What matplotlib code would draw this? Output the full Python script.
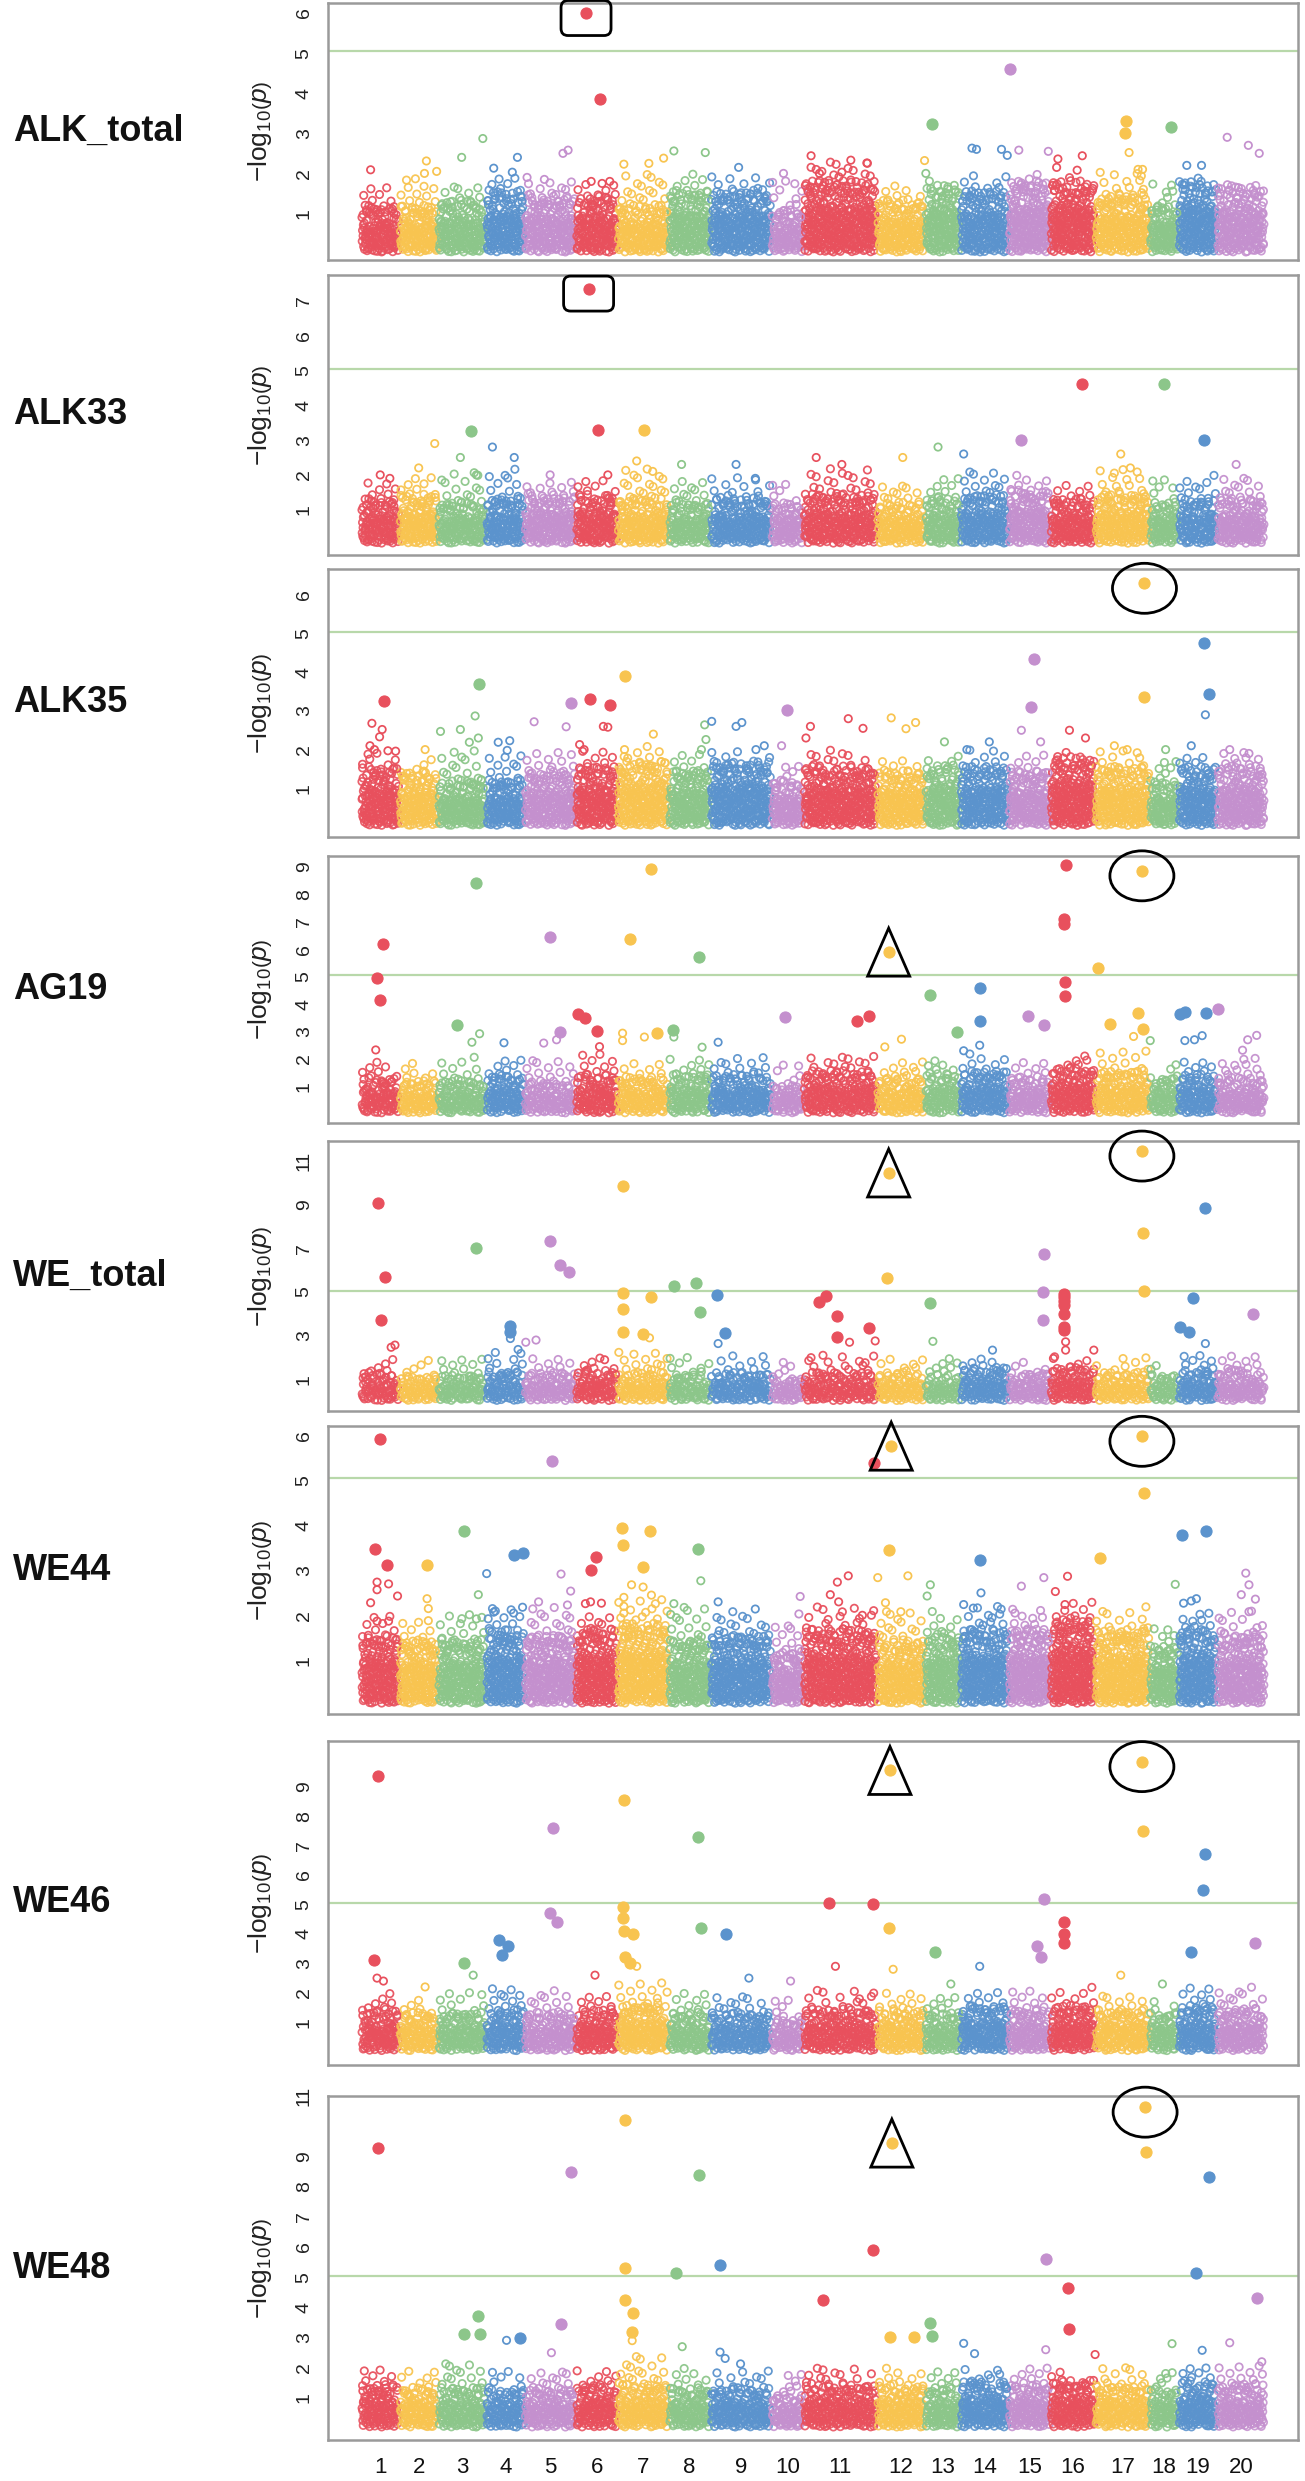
import numpy as np
import matplotlib
matplotlib.use('Agg')
import matplotlib.pyplot as plt
from matplotlib.patches import Ellipse, Polygon, FancyBboxPatch
from matplotlib.transforms import ScaledTranslation

plt.rcParams['font.family'] = ['Liberation Sans', 'DejaVu Sans']
plt.rcParams['mathtext.fontset'] = 'custom'
plt.rcParams['mathtext.rm'] = 'Liberation Sans'
plt.rcParams['mathtext.it'] = 'Liberation Sans:italic'

# ---------------- data ----------------
chromosomes = [str(i) for i in range(1, 21)]
chrom_sizes = [60, 60, 75, 60, 80, 65, 80, 65, 95, 50, 115, 75, 55, 75, 65, 70, 85, 45, 60, 75]
chrom_colors = ['#E8505D', '#F8C450', '#8CC68A', '#5B93CD', '#C490CE']

traits = ['ALK_total', 'ALK33', 'ALK35', 'AG19', 'WE_total', 'WE44', 'WE46', 'WE48']
threshold = 5.05

y_ticks = [[1, 2, 3, 4, 5, 6], [1, 2, 3, 4, 5, 6, 7], [1, 2, 3, 4, 5, 6],
           [1, 2, 3, 4, 5, 6, 7, 8, 9], [1, 3, 5, 7, 9, 11], [1, 2, 3, 4, 5, 6],
           [1, 2, 3, 4, 5, 6, 7, 8, 9], [1, 2, 3, 4, 5, 6, 7, 8, 9, 11]]
y_limits = [(-0.16, 6.25), (-0.30, 7.74), (-0.26, 6.67), (-0.33, 9.39),
            (-0.44, 11.89), (-0.20, 6.22), (-0.45, 10.55), (-0.39, 10.88)]

# bulk of SNP cloud per chromosome: height of dense band and of sparse upper fringe
alk_total_dense = [1.0, 1.0, 1.1, 1.3, 1.2, 1.2, 1.0, 1.3, 1.3, 0.9, 1.5, 1.1, 1.4, 1.3, 1.5, 1.5, 1.2, 1.0, 1.5, 1.4]
alk_total_halo = [1.8, 2.0, 1.7, 1.9, 1.9, 1.8, 2.0, 2.0, 2.0, 1.9, 2.3, 1.7, 1.9, 2.0, 2.0, 2.0, 2.1, 1.8, 1.9, 1.8]
alk33_dense = [1.1, 1.2, 1.0, 1.1, 1.2, 1.2, 1.1, 1.0, 1.1, 1.0, 1.2, 1.0, 1.1, 1.2, 1.3, 1.1, 1.2, 1.0, 1.1, 1.1]
alk33_halo = [1.9, 2.0, 2.1, 2.2, 1.9, 1.9, 2.2, 2.0, 2.0, 1.8, 2.2, 1.8, 2.0, 2.1, 2.0, 1.8, 2.2, 1.9, 2.0, 2.0]
alk35_dense = [1.3, 1.2, 1.0, 1.0, 1.2, 1.3, 1.4, 1.2, 1.4, 1.0, 1.3, 1.2, 1.3, 1.3, 1.2, 1.5, 1.3, 1.0, 1.3, 1.3]
alk35_halo = [2.0, 1.8, 2.0, 2.0, 2.0, 2.0, 2.1, 2.0, 2.0, 1.6, 2.0, 1.8, 1.9, 2.0, 2.0, 2.0, 2.0, 1.7, 1.9, 2.0]
ag19_dense = [1.1, 1.0, 1.0, 1.2, 1.0, 1.2, 1.1, 1.2, 1.2, 0.9, 1.3, 1.1, 1.2, 1.3, 1.1, 1.4, 1.3, 1.1, 1.2, 1.1]
ag19_halo = [2.0, 1.9, 2.1, 2.1, 2.0, 2.2, 2.0, 2.1, 2.1, 1.8, 2.2, 2.0, 2.0, 2.2, 2.0, 2.2, 2.3, 1.8, 2.0, 2.1]
we_total_dense = [1.1, 1.0, 1.0, 1.1, 1.1, 1.2, 1.1, 1.0, 1.1, 0.9, 1.1, 1.1, 1.0, 1.3, 1.1, 1.3, 1.1, 1.0, 1.2, 1.2]
we_total_halo = [2.0, 1.9, 2.1, 2.4, 2.0, 2.0, 2.4, 2.1, 2.1, 1.8, 2.2, 2.0, 2.0, 2.1, 1.9, 2.1, 2.0, 1.8, 2.2, 2.1]
we44_dense = [1.3, 1.2, 1.2, 1.4, 1.3, 1.4, 1.5, 1.2, 1.3, 1.0, 1.4, 1.2, 1.3, 1.4, 1.4, 1.6, 1.4, 1.1, 1.4, 1.3]
we44_halo = [2.0, 2.0, 2.1, 2.2, 2.2, 2.1, 2.4, 2.2, 2.1, 1.9, 2.2, 2.1, 2.1, 2.3, 2.2, 2.3, 2.2, 1.8, 2.1, 2.1]
we46_dense = [1.2, 1.1, 1.1, 1.2, 1.1, 1.2, 1.3, 1.1, 1.1, 0.9, 1.2, 1.2, 1.1, 1.3, 1.2, 1.3, 1.2, 1.1, 1.3, 1.2]
we46_halo = [2.0, 1.9, 2.1, 2.2, 2.1, 2.0, 2.4, 2.0, 2.0, 1.9, 2.1, 2.0, 2.0, 2.1, 2.1, 2.2, 2.0, 1.8, 2.2, 2.2]
we48_dense = [1.2, 1.1, 1.1, 1.1, 1.1, 1.2, 1.2, 1.1, 1.1, 0.9, 1.2, 1.2, 1.1, 1.3, 1.2, 1.3, 1.2, 1.1, 1.3, 1.2]
we48_halo = [2.1, 2.0, 2.2, 1.9, 2.0, 2.0, 2.4, 2.0, 2.0, 1.9, 2.0, 2.0, 2.0, 2.0, 2.0, 2.0, 2.1, 1.9, 2.0, 2.2]

# individual SNPs above the bulk: (chromosome, position in chromosome, -log10 p)
alk_total_points = [
    (1, 15, 2.09), (2, 42, 2.31), (2, 58, 2.05), (2, 39, 2.0), (3, 70, 2.87), (3, 37, 2.4),
    (4, 12, 2.13), (4, 49, 2.4), (4, 41, 2.03), (5, 60, 2.5), (5, 68, 2.58), (5, 4, 1.9),
    (5, 31, 1.85), (6, 16, 6.0), (6, 38, 3.85), (6, 24, 1.8), (6, 41, 1.75), (6, 53, 1.8),
    (7, 10, 2.23), (7, 49, 2.25), (7, 72, 2.38), (8, 8, 2.56), (8, 57, 2.52),
    (9, 44, 2.15), (10, 19, 2.0), (11, 12, 2.44), (11, 74, 2.33), (11, 99, 2.26),
    (11, 60, 2.03), (11, 25, 2.0), (12, 74, 2.32), (13, 1, 2.0), (13, 10, 3.24),
    (14, 18, 2.63), (14, 25, 2.6), (14, 64, 2.6), (14, 73, 2.45), (15, 3, 4.61),
    (15, 16, 2.58), (15, 62, 2.55), (16, 12, 2.36), (16, 50, 2.44), (16, 10, 2.15),
    (16, 42, 2.08), (17, 48, 3.31), (17, 46, 3.0), (17, 53, 2.52), (17, 67, 2.1),
    (17, 74, 2.1), (18, 34, 3.15), (19, 13, 2.2), (19, 36, 2.2), (20, 16, 2.9),
    (20, 49, 2.7), (20, 66, 2.5)]
alk33_points = [
    (1, 30, 2.0), (1, 45, 1.9), (2, 55, 2.9), (2, 30, 2.2), (3, 52, 3.25), (3, 35, 2.5),
    (3, 60, 2.0), (4, 10, 2.8), (4, 44, 2.5), (5, 40, 2.0), (6, 20, 7.35), (6, 35, 3.3),
    (6, 50, 2.0), (7, 41, 3.3), (7, 30, 2.4), (7, 55, 2.1), (8, 20, 2.3), (9, 40, 2.3),
    (9, 70, 1.9), (11, 20, 2.5), (11, 60, 2.3), (12, 40, 2.5), (13, 20, 2.8),
    (14, 5, 2.6), (15, 20, 3.0), (16, 50, 4.6), (17, 40, 2.6), (17, 55, 2.2),
    (18, 22, 4.6), (19, 40, 3.0), (20, 30, 2.3)]
alk35_points = [
    (1, 36, 3.26), (1, 17, 2.68), (1, 33, 2.52), (1, 29, 2.33), (1, 14, 2.1), (1, 21, 2.0),
    (1, 42, 1.97), (1, 54, 1.96), (2, 40, 2.0), (3, 64, 3.7), (3, 58, 2.87), (3, 35, 2.52),
    (3, 4, 2.47), (3, 49, 2.19), (3, 63, 2.3), (4, 19, 2.19), (4, 37, 2.23), (4, 33, 1.98),
    (5, 15, 2.72), (5, 65, 2.59), (5, 72, 3.21), (6, 22, 3.3), (6, 54, 3.16), (6, 43, 2.6),
    (6, 50, 2.58), (6, 6, 2.13), (6, 13, 2.0), (7, 12, 3.9), (7, 56, 2.4), (7, 11, 2.0),
    (8, 56, 2.64), (8, 58, 2.26), (8, 51, 2.0), (9, 2, 2.73), (9, 40, 2.6), (9, 49, 2.7),
    (9, 71, 2.0), (9, 84, 2.1), (10, 24, 3.03), (10, 16, 2.1), (11, 11, 2.6), (11, 4, 2.3),
    (11, 70, 2.8), (11, 93, 2.55), (12, 22, 2.82), (12, 45, 2.54), (12, 60, 2.7),
    (13, 30, 2.2), (14, 45, 2.2), (14, 10, 2.0), (15, 40, 4.35), (15, 35, 3.1),
    (15, 20, 2.5), (15, 50, 2.2), (16, 30, 2.5), (16, 55, 2.3), (17, 77, 6.3),
    (17, 77, 3.35), (17, 30, 2.1), (17, 50, 2.0), (18, 25, 2.0), (19, 40, 4.75),
    (19, 47, 3.45), (19, 42, 2.9), (19, 20, 2.1), (20, 20, 2.0), (20, 50, 1.9)]
ag19_points = [
    (1, 35, 6.17), (1, 25, 4.96), (1, 30, 4.13), (1, 23, 2.33), (3, 60, 8.42), (5, 40, 6.44),
    (7, 53, 8.93), (7, 20, 6.38), (8, 47, 5.71), (12, 18, 5.89), (16, 25, 9.08),
    (16, 22, 7.1), (16, 22, 6.93), (16, 23, 4.8), (16, 23, 4.28), (17, 5, 5.31),
    (17, 73, 8.85), (13, 7, 4.34), (14, 30, 4.58), (14, 30, 3.4), (6, 3, 3.62),
    (6, 15, 3.5), (10, 22, 3.52), (11, 83, 3.4), (11, 103, 3.55), (15, 30, 3.56),
    (15, 55, 3.24), (17, 67, 3.67), (17, 23, 3.27), (17, 75, 3.1), (17, 60, 2.82),
    (19, 2, 3.64), (19, 10, 3.7), (19, 43, 3.67), (20, 2, 3.83), (19, 10, 2.67),
    (19, 25, 2.7), (19, 37, 2.85), (3, 30, 3.24), (3, 65, 2.92), (3, 53, 2.61),
    (4, 28, 2.59), (5, 30, 2.58), (5, 55, 2.98), (5, 50, 2.7), (6, 33, 3.01),
    (6, 37, 2.45), (7, 8, 2.94), (7, 42, 2.8), (7, 62, 2.95), (7, 8, 2.67), (8, 7, 3.06),
    (8, 8, 2.8), (8, 52, 2.43), (9, 12, 2.61), (12, 12, 2.44), (12, 38, 2.72),
    (13, 50, 2.98), (14, 30, 2.5), (14, 5, 2.3), (18, 1, 2.67), (20, 62, 2.86),
    (20, 48, 2.7), (20, 40, 2.32)]
we_total_points = [
    (1, 27, 9.07), (1, 37, 5.67), (1, 31, 3.72), (1, 53, 2.57), (1, 47, 2.47),
    (3, 60, 6.99), (5, 40, 7.31), (5, 55, 6.21), (5, 70, 5.9), (7, 9, 9.83), (7, 8, 4.97),
    (7, 8, 4.21), (7, 53, 4.77), (8, 8, 5.26), (8, 43, 5.41), (8, 48, 4.06), (9, 10, 4.85),
    (11, 35, 4.82), (11, 25, 4.54), (11, 53, 3.9), (12, 18, 10.43), (12, 16, 5.64),
    (13, 7, 4.5), (15, 55, 6.75), (15, 53, 5.0), (15, 53, 3.72), (16, 22, 4.92),
    (16, 22, 4.77), (16, 22, 4.59), (16, 22, 4.39), (16, 22, 4.01), (16, 22, 3.4),
    (16, 22, 3.25), (16, 24, 2.72), (16, 24, 2.34), (16, 5, 1.96), (17, 73, 11.43),
    (17, 75, 7.69), (17, 77, 5.02), (19, 42, 8.85), (19, 23, 4.73), (19, 3, 3.4),
    (19, 16, 3.17), (19, 42, 2.64), (20, 57, 4.0), (4, 38, 3.43), (4, 38, 3.17),
    (4, 38, 2.87), (4, 50, 2.37), (5, 18, 2.8), (5, 2, 2.7), (6, 45, 1.9), (7, 8, 3.17),
    (7, 40, 3.07), (7, 50, 2.9), (9, 22, 3.1), (9, 12, 2.64), (11, 103, 3.33),
    (11, 53, 2.95), (11, 72, 2.7), (11, 112, 2.76), (13, 12, 2.74), (14, 50, 2.34),
    (16, 68, 2.34)]
we44_points = [
    (1, 29, 5.94), (5, 43, 5.45), (11, 110, 5.39), (12, 22, 5.77), (17, 73, 5.99),
    (17, 76, 4.73), (1, 22, 3.47), (1, 40, 3.12), (1, 25, 2.74), (1, 43, 2.7),
    (1, 25, 2.57), (1, 57, 2.43), (1, 15, 2.28), (1, 25, 1.87), (1, 43, 1.87),
    (2, 43, 3.12), (2, 43, 2.37), (2, 45, 2.15), (2, 45, 1.88), (3, 40, 3.87),
    (3, 63, 2.46), (3, 60, 1.92), (4, 43, 3.34), (4, 58, 3.38), (4, 1, 2.93),
    (4, 12, 2.07), (4, 43, 2.05), (4, 57, 2.18), (5, 57, 2.92), (5, 72, 2.54),
    (5, 67, 2.23), (5, 22, 2.3), (6, 32, 3.3), (6, 23, 3.0), (6, 23, 2.3), (6, 40, 2.27),
    (6, 15, 2.26), (7, 7, 3.94), (7, 9, 3.57), (7, 50, 3.89), (7, 40, 3.07), (7, 22, 2.68),
    (7, 40, 2.63), (7, 53, 2.45), (7, 10, 2.4), (7, 10, 2.2), (7, 10, 2.05), (8, 45, 3.48),
    (8, 50, 2.77), (8, 8, 2.26), (8, 3, 2.02), (9, 12, 2.3), (9, 70, 2.14), (10, 45, 2.42),
    (10, 43, 2.03), (11, 70, 2.88), (11, 53, 2.74), (11, 42, 2.46), (11, 55, 2.3),
    (11, 92, 2.0), (12, 18, 3.45), (12, 1, 2.84), (12, 48, 2.88), (12, 13, 2.28),
    (12, 37, 2.08), (13, 8, 2.68), (13, 3, 2.43), (14, 30, 3.23), (14, 32, 2.5),
    (14, 5, 2.24), (14, 20, 2.16), (15, 20, 2.65), (15, 55, 2.84), (15, 10, 2.05),
    (16, 27, 2.87), (16, 8, 2.53), (16, 23, 2.24), (17, 7, 3.27), (18, 40, 2.69),
    (19, 5, 3.78), (19, 43, 3.89), (19, 20, 2.32), (19, 28, 2.37), (19, 8, 2.27),
    (20, 45, 2.94), (20, 50, 2.68), (20, 38, 2.46), (20, 60, 2.36), (20, 50, 2.08)]
we46_points = [
    (1, 27, 9.35), (7, 10, 8.55), (5, 45, 7.6), (8, 45, 7.3), (12, 20, 9.55),
    (17, 73, 9.85), (17, 75, 7.5), (19, 42, 6.7), (19, 38, 5.5), (15, 55, 5.2),
    (11, 40, 5.05), (11, 108, 5.0), (7, 8, 4.9), (7, 8, 4.55), (7, 10, 4.1), (7, 25, 4.0),
    (7, 12, 3.2), (7, 20, 3.0), (7, 30, 2.9), (5, 40, 4.7), (5, 50, 4.4), (4, 20, 3.8),
    (4, 35, 3.6), (4, 25, 3.3), (3, 40, 3.0), (3, 55, 2.6), (1, 20, 3.1), (1, 25, 2.5),
    (1, 35, 2.4), (8, 50, 4.2), (9, 25, 4.0), (12, 18, 4.2), (12, 25, 2.8),
    (16, 22, 4.4), (16, 22, 4.0), (16, 22, 3.7), (13, 15, 3.4), (14, 30, 2.9),
    (15, 45, 3.6), (15, 50, 3.2), (19, 20, 3.4), (20, 60, 3.7), (11, 50, 2.9),
    (10, 30, 2.4), (6, 30, 2.6), (2, 40, 2.2), (18, 20, 2.3), (17, 40, 2.6),
    (13, 40, 2.3), (9, 60, 2.5)]
we48_points = [
    (1, 27, 9.27), (7, 12, 10.19), (5, 72, 8.5), (8, 47, 8.37), (12, 23, 9.44),
    (17, 78, 10.63), (17, 80, 9.13), (19, 48, 8.33), (11, 108, 5.91), (15, 58, 5.59),
    (7, 11, 5.31), (8, 12, 5.14), (9, 15, 5.41), (19, 28, 5.13), (16, 27, 4.64),
    (16, 29, 3.28), (11, 30, 4.26), (20, 62, 4.31), (7, 11, 4.26), (7, 25, 3.83),
    (7, 23, 3.17), (7, 23, 2.9), (3, 63, 3.72), (3, 40, 3.11), (3, 65, 3.11),
    (4, 32, 2.91), (4, 53, 3.0), (5, 57, 3.44), (5, 42, 2.5), (8, 21, 2.7), (9, 15, 2.52),
    (9, 23, 2.31), (9, 47, 2.13), (12, 20, 3.02), (12, 58, 3.02), (13, 7, 3.5),
    (13, 11, 3.06), (14, 5, 2.81), (14, 22, 2.47), (15, 58, 2.6), (16, 70, 2.44),
    (18, 35, 2.8), (19, 37, 2.58), (20, 20, 2.83), (20, 70, 2.2)]

# highlighted loci: (shape, chromosome, position, -log10 p)
alk_total_marks = [('box', 6, 16, 6.0)]
alk33_marks = [('box', 6, 20, 7.35)]
alk35_marks = [('circle', 17, 77, 6.3)]
ag19_marks = [('triangle', 12, 18, 5.89), ('circle', 17, 73, 8.85)]
we_total_marks = [('triangle', 12, 18, 10.43), ('circle', 17, 73, 11.43)]
we44_marks = [('triangle', 12, 22, 5.77), ('circle', 17, 73, 5.99)]
we46_marks = [('triangle', 12, 20, 9.55), ('circle', 17, 73, 9.85)]
we48_marks = [('triangle', 12, 23, 9.44), ('circle', 17, 78, 10.63)]

dense_list = [alk_total_dense, alk33_dense, alk35_dense, ag19_dense,
              we_total_dense, we44_dense, we46_dense, we48_dense]
halo_list = [alk_total_halo, alk33_halo, alk35_halo, ag19_halo,
             we_total_halo, we44_halo, we46_halo, we48_halo]
points_list = [alk_total_points, alk33_points, alk35_points, ag19_points,
               we_total_points, we44_points, we46_points, we48_points]
marks_list = [alk_total_marks, alk33_marks, alk35_marks, ag19_marks,
              we_total_marks, we44_marks, we46_marks, we48_marks]

# ---------------- layout ----------------
W, H = 1305, 2481
ax_left, ax_right = 328, 1298
panel_top = [3, 275, 569, 856, 1141, 1426, 1741, 2096]
panel_bot = [260, 555, 837, 1123, 1411, 1714, 2065, 2440]

starts = np.concatenate([[0], np.cumsum(chrom_sizes)[:-1]])
total = float(np.sum(chrom_sizes))
xpad = 0.0365 * total
mids = starts + np.array(chrom_sizes) / 2.0


def halton(n, base, skip=0):
    out = np.empty(n)
    for i in range(n):
        f, r, k = 1.0, 0.0, i + 1 + skip
        while k > 0:
            f /= base
            r += f * (k % base)
            k //= base
        out[i] = r
    return out


fig = plt.figure(figsize=(W / 100, H / 100), dpi=100)
ring_kw = dict(facecolors='none', linewidths=1.25, s=28)

for k in range(8):
    top, bot = panel_top[k], panel_bot[k]
    ax = fig.add_axes([ax_left / W, 1 - bot / H, (ax_right - ax_left) / W, (bot - top) / H])
    y0, y1 = y_limits[k]
    px_x = (ax_right - ax_left) / (total + 2 * xpad)
    px_y = (bot - top) / (y1 - y0)

    # bulk cloud (dense core, ragged upper edge, sparse fringe)
    for c in range(20):
        col = chrom_colors[c % 5]
        L = chrom_sizes[c]
        d = dense_list[k][c]
        h = halo_list[k][c]
        wpx = L * px_x
        core = 0.72 * d
        n_c = int(wpx * core * px_y / 12)
        u = halton(n_c, 2, skip=37 * c + 11 * k)
        v = halton(n_c, 3, skip=37 * c + 11 * k)
        ax.scatter(starts[c] + 1.5 + u * (L - 3), 0.04 + v * (core - 0.04),
                   edgecolors=col, alpha=0.88, zorder=2, **ring_kw)
        n_e = int(wpx * 0.5 * d * px_y / 26)
        u = halton(n_e, 2, skip=500 + 29 * c + 5 * k)
        v = halton(n_e, 5, skip=500 + 29 * c + 5 * k)
        ax.scatter(starts[c] + 1.5 + u * (L - 3), core + 0.5 * d * v ** 1.4,
                   edgecolors=col, alpha=0.9, zorder=2, **ring_kw)
        n_h = int(wpx * (h - d) * px_y / 75)
        if n_h > 0:
            u = halton(n_h, 5, skip=13 * c + 7 * k)
            v = halton(n_h, 7, skip=13 * c + 7 * k)
            ax.scatter(starts[c] + 2 + u * (L - 4), d + (h - d) * v ** 1.7,
                       edgecolors=col, alpha=0.95, zorder=3, **ring_kw)

    # individual SNPs
    for (c, p, val) in points_list[k]:
        col = chrom_colors[(c - 1) % 5]
        x = starts[c - 1] + p
        if val >= 2.95:
            ax.scatter([x], [val], s=64, color=col, edgecolors=col, linewidths=0.8, zorder=5)
        else:
            ax.scatter([x], [val], edgecolors=col, zorder=4, **ring_kw)

    # threshold line
    ax.axhline(threshold, color='#b8d8aa', lw=1.6, zorder=1)

    # annotation shapes (sized in pixels around the locus)
    for (shape, c, p, val) in marks_list[k]:
        x = starts[c - 1] + p
        tr = fig.dpi_scale_trans + ScaledTranslation(x, val, ax.transData)
        if shape == 'box':
            w, hh = 0.50, 0.35
            patch = FancyBboxPatch((-w / 2, -hh / 2 - 0.05), w, hh,
                                   boxstyle='round,pad=0,rounding_size=0.07',
                                   transform=tr, fill=False, ec='black', lw=2.0,
                                   clip_on=False, zorder=6)
        elif shape == 'circle':
            patch = Ellipse((0, -0.05), 0.64, 0.50, transform=tr, fill=False,
                            ec='black', lw=2.0, clip_on=False, zorder=6)
        else:
            w, hh = 0.42, 0.48
            patch = Polygon([(-w / 2, -hh / 2), (w / 2, -hh / 2), (0, hh / 2)],
                            closed=True, transform=tr, fill=False, ec='black',
                            lw=2.0, clip_on=False, zorder=6)
        ax.add_patch(patch)

    ax.set_xlim(-xpad, total + xpad)
    ax.set_ylim(y0, y1)
    ax.set_yticks(y_ticks[k])
    ax.set_yticklabels([str(t) for t in y_ticks[k]], rotation=90, va='center',
                       fontsize=14, color='#222222')
    ax.tick_params(axis='y', length=0, pad=11)
    if k == 7:
        ax.set_xticks(mids)
        ax.set_xticklabels(chromosomes, fontsize=16, color='#111111')
        ax.tick_params(axis='x', length=0, pad=12)
    else:
        ax.set_xticks([])
    for s in ax.spines.values():
        s.set_color('#9a9a9a')
        s.set_linewidth(1.8)

    cy = 1 - (top + bot) / 2 / H
    fig.text(260 / W, cy, r'$-\mathrm{log}_{10}\left(\mathit{p}\right)$', rotation=90,
             ha='center', va='center', fontsize=19, color='#222222')
    fig.text(13 / W, cy, traits[k], ha='left', va='center', fontsize=26,
             fontweight='bold', color='#111111')

fig.savefig('out.png', dpi=100)
